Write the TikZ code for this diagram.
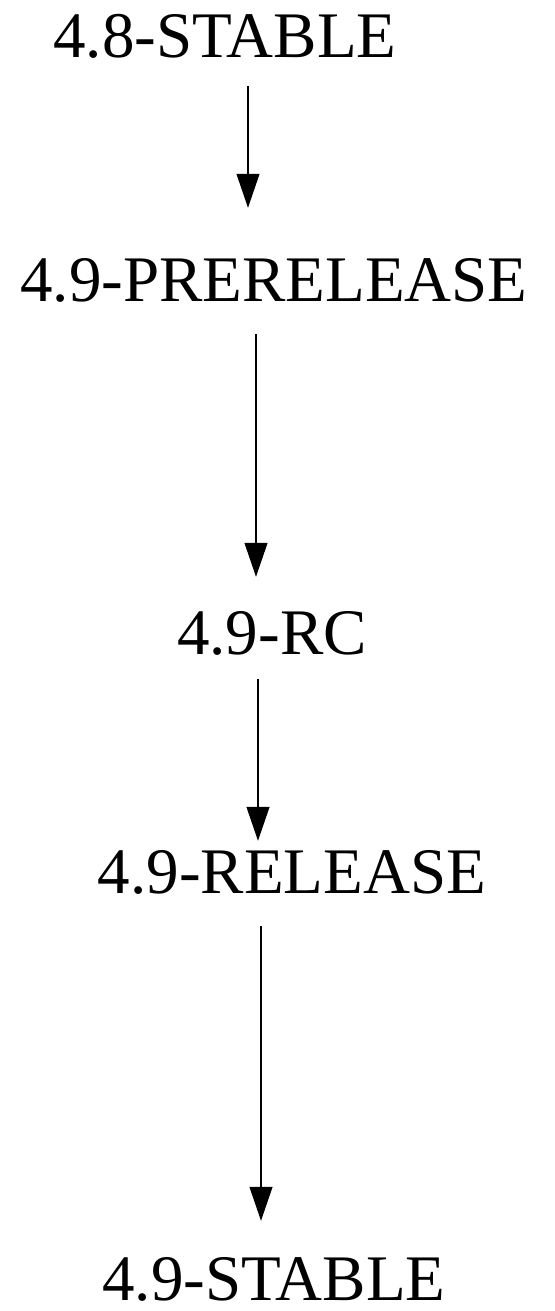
\documentclass[tikz,border=0pt]{standalone}
\usepackage{fontspec}
\setmainfont{Liberation Serif}
\usetikzlibrary{arrows.meta}
\begin{document}
\begin{tikzpicture}[x=1pt,y=1pt,
  lbl/.style={inner sep=0pt,anchor=base,font=\fontsize{65}{78}\selectfont},
  arr/.style={line width=1.2pt,-{Triangle[length=34pt,width=23pt]}}]
\useasboundingbox (0,0) rectangle (554,-1311);
\node[lbl] (a) at (225,-58) {4.8-STABLE};
\node[lbl] (b) at (274,-301) {4.9-PRERELEASE};
\node[lbl] (c) at (272,-654) {4.9-RC};
\node[lbl] (d) at (292,-893) {4.9-RELEASE};
\node[lbl] (e) at (274,-1300) {4.9-STABLE};
\draw[arr] ([xshift=23pt,yshift=-27pt]a.south) -- ([xshift=-26pt,yshift=50pt]b.north);
\draw[arr] ([xshift=-18pt,yshift=-32pt]b.south) -- ([xshift=-16pt,yshift=34pt]c.north);
\draw[arr] ([xshift=-14pt,yshift=-24pt]c.south) -- ([xshift=-34pt,yshift=9pt]d.north);
\draw[arr] ([xshift=-31pt,yshift=-32pt]d.south) -- ([xshift=-13pt,yshift=36pt]e.north);
\end{tikzpicture}
\end{document}
